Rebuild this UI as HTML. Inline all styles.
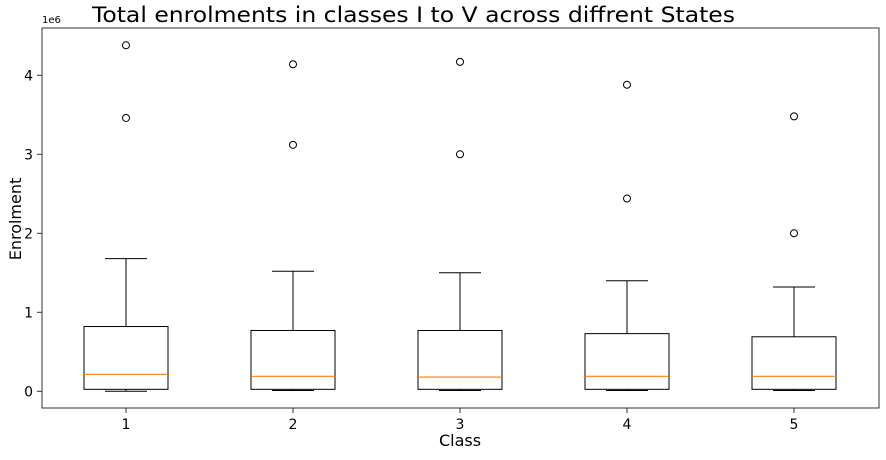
<!DOCTYPE html>
<html><head><meta charset="utf-8"><style>
body{margin:0;background:#fff;}
svg text{font-family:"DejaVu Sans","Liberation Sans",sans-serif;fill:#000;}
</style></head><body>
<svg id="chart" width="886" height="455">
<text x="92" y="22" font-size="21" textLength="643" lengthAdjust="spacingAndGlyphs">Total enrolments in classes I to V across diffrent States</text>
<text x="42" y="23" font-size="10">1e6</text>
<text x="460" y="446" font-size="16" text-anchor="middle">Class</text>
<text x="21" y="219" font-size="16" text-anchor="middle" transform="rotate(-90 21 219)">Enrolment</text>
<g id="plot"></g>
<rect x="42" y="28" width="837" height="380" fill="none" stroke="#333" stroke-width="1"/>
</svg>
<script>
const categories=["1","2","3","4","5"];
const q1=[0.025,0.025,0.025,0.025,0.025];
const medians=[0.215,0.19,0.18,0.19,0.19];
const q3=[0.82,0.77,0.77,0.73,0.69];
const whiskLo=[0,0.01,0.01,0.01,0.01];
const whiskHi=[1.68,1.52,1.50,1.40,1.32];
const outliers=[[4.38,3.46],[4.14,3.12],[4.17,3.0],[3.88,2.44],[3.48,2.0]];
const yTicks=[0,1,2,3,4];
const NS="http://www.w3.org/2000/svg";
const g=document.getElementById('plot');
function y(v){return 391.3-v*79;}
function x(i){return 126+i*167;}
function mk(t,a){const e=document.createElementNS(NS,t);for(const k in a)e.setAttribute(k,a[k]);g.appendChild(e);return e;}
yTicks.forEach(t=>{
 const l=mk('line',{x1:37,x2:42,y1:y(t),y2:y(t),stroke:'#333'});
 
 
 const tx=mk('text',{x:33,y:y(t)+5,'font-size':14,'text-anchor':'end'});tx.textContent=t;
 
 
});
categories.forEach((c,i)=>{
 const cx=x(i),hw=42,cw=21;
 const tk=mk('line',{x1:cx,x2:cx,y1:408,y2:413,stroke:'#333'});
 
 
 const tx=mk('text',{x:cx,y:429,'font-size':14,'text-anchor':'middle'});tx.textContent=c;
 
 
 const w1=mk('line',{x1:cx,x2:cx,y1:y(q3[i]),y2:y(whiskHi[i]),stroke:'#000'});
 
 
 const c1=mk('line',{x1:cx-cw,x2:cx+cw,y1:y(whiskHi[i]),y2:y(whiskHi[i]),stroke:'#000'});
 
 
 const w2=mk('line',{x1:cx,x2:cx,y1:y(q1[i]),y2:y(whiskLo[i]),stroke:'#000'});
 
 
 const c2=mk('line',{x1:cx-cw,x2:cx+cw,y1:y(whiskLo[i]),y2:y(whiskLo[i]),stroke:'#000'});
 
 
 const b=mk('rect',{x:cx-hw,y:y(q3[i]),width:2*hw,height:y(q1[i])-y(q3[i]),fill:'none',stroke:'#000'});
 
 
 const m=mk('line',{x1:cx-hw,x2:cx+hw,y1:y(medians[i]),y2:y(medians[i]),stroke:'#ff7f0e','stroke-width':1.2});
 
 
 outliers[i].forEach(v=>{
  const o=mk('circle',{cx:cx,cy:y(v),r:3.5,fill:'none',stroke:'#000'});
  
  
 });
});
</script>
</body></html>
